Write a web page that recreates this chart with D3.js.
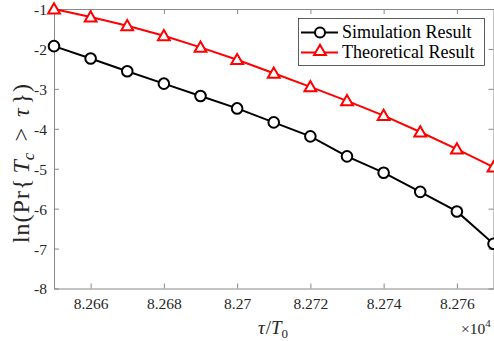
<!DOCTYPE html>
<html><head><meta charset="utf-8">
<script src="https://cdn.jsdelivr.net/npm/d3@7"></script>
<style>body{margin:0;background:#fff}svg{display:block}</style>
</head><body>
<script>
const xValues = [8.265,8.266,8.267,8.268,8.269,8.270,8.271,8.272,8.273,8.274,8.275,8.276,8.277];
const simulation = [-1.93,-2.24,-2.56,-2.87,-3.18,-3.49,-3.84,-4.19,-4.69,-5.10,-5.58,-6.07,-6.88];
const theoretical = [-1.0,-1.2,-1.42,-1.67,-1.96,-2.27,-2.61,-2.95,-3.30,-3.67,-4.08,-4.51,-4.96];
const xTicks = [8.266,8.268,8.27,8.272,8.274,8.276];
const xTickLabels = ["8.266","8.268","8.27","8.272","8.274","8.276"];
const yTicks = [-8,-7,-6,-5,-4,-3,-2,-1];
const seriesNames = ["Simulation Result","Theoretical Result"];

const FONT="'Liberation Serif', 'Times New Roman', serif";
const W=494,H=341, L=54, R=493.5, T=9, B=288.5;
const svg=d3.select("body").append("svg").attr("width",W).attr("height",H).attr("font-family",FONT);
const x=d3.scaleLinear().domain([8.265,8.277]).range([L,R]);
const y=d3.scaleLinear().domain([-8,-1]).range([B,T]);
const axisCol="#888", txtCol="#262626";

const gx=svg.append("g").attr("transform",`translate(0,${B})`)
  .call(d3.axisBottom(x).tickValues(xTicks).tickFormat((d,i)=>xTickLabels[i]).tickSizeInner(-5).tickSizeOuter(0).tickPadding(9));
const gxt=svg.append("g").attr("transform",`translate(0,${T})`)
  .call(d3.axisTop(x).tickValues(xTicks).tickFormat("").tickSizeInner(-5).tickSizeOuter(0));
const gy=svg.append("g").attr("transform",`translate(${L},0)`)
  .call(d3.axisLeft(y).tickValues(yTicks).tickFormat(d=>d).tickSizeInner(-5).tickSizeOuter(0).tickPadding(7));
const gyr=svg.append("g").attr("transform",`translate(${R},0)`)
  .call(d3.axisRight(y).tickValues(yTicks).tickFormat("").tickSizeInner(-5).tickSizeOuter(0));
[gx,gxt,gy,gyr].forEach(g=>{
  g.attr("font-family",FONT).attr("font-size",15.5);
  g.selectAll("path").attr("stroke",axisCol).attr("stroke-width",1);
  g.selectAll("line").attr("stroke",axisCol);
  g.selectAll("text").attr("fill",txtCol);
});
gy.selectAll("text").attr("dy","0.35em");

const line=d3.line().x((d,i)=>x(xValues[i])).y(d=>y(d));
const tri=d3.symbol().type(d3.symbolTriangle).size(60);

function drawSeries(vals,color,marker){
  svg.append("path").datum(vals).attr("d",line).attr("fill","none").attr("stroke",color).attr("stroke-width",2);
  const g=svg.append("g");
  vals.forEach((v,i)=>{
    if(marker==="circle") g.append("circle").attr("cx",x(xValues[i])).attr("cy",y(v)).attr("r",5.3)
      .attr("fill","#fff").attr("stroke",color).attr("stroke-width",2);
    else g.append("path").attr("d",tri).attr("transform",`translate(${x(xValues[i])},${y(v)+1})`)
      .attr("fill","#fff").attr("stroke",color).attr("stroke-width",2);
  });
}
drawSeries(simulation,"#000","circle");
drawSeries(theoretical,"#ff0000","triangle");

const lg=svg.append("g");
lg.append("rect").attr("x",298.5).attr("y",18.5).attr("width",186).attr("height",47).attr("fill","#fff").attr("stroke","#333").attr("stroke-width",0.8);
const items=[{c:"#000",m:"circle",yy:32.5,ty:37.5},{c:"#ff0000",m:"triangle",yy:52.5,ty:58.3}];
items.forEach((it,i)=>{
  lg.append("line").attr("x1",301).attr("x2",338).attr("y1",it.yy).attr("y2",it.yy).attr("stroke",it.c).attr("stroke-width",2);
  if(it.m==="circle") lg.append("circle").attr("cx",320).attr("cy",it.yy).attr("r",5).attr("fill","#fff").attr("stroke",it.c).attr("stroke-width",2);
  else lg.append("path").attr("d",tri).attr("transform",`translate(320,${it.yy-1})`).attr("fill","#fff").attr("stroke",it.c).attr("stroke-width",2);
  lg.append("text").attr("x",342).attr("y",it.ty).text(seriesNames[i]).attr("fill","#000").attr("font-size",18);
});

const xl=svg.append("text").attr("x",273).attr("y",333.5).attr("text-anchor","middle").attr("fill",txtCol).attr("font-size",19);
xl.append("tspan").attr("font-style","italic").text("τ");
xl.append("tspan").attr("dx",1).text("/");
xl.append("tspan").attr("font-style","italic").text("T");
xl.append("tspan").attr("dy",4).attr("font-size",13).text("0");

const ex=svg.append("text").attr("x",461).attr("y",333.5).attr("fill",txtCol).attr("font-size",15.5);
ex.append("tspan").text("×10");
ex.append("tspan").attr("dy",-7).attr("font-size",11).text("4");

const yl=svg.append("text").attr("transform","translate(29,163) rotate(-90)").attr("text-anchor","middle").attr("fill",txtCol).attr("font-size",24);
yl.append("tspan").attr("letter-spacing",1).text("ln(Pr{");
yl.append("tspan").attr("dx",4).attr("font-style","italic").text("T");
yl.append("tspan").attr("dy",5).attr("font-size",17).attr("font-style","italic").text("c");
yl.append("tspan").attr("dy",-5).attr("dx",11).text(">");
yl.append("tspan").attr("dx",11).attr("font-style","italic").text("τ");
yl.append("tspan").attr("dx",4).attr("letter-spacing",1).text("})");
</script>
</body></html>
